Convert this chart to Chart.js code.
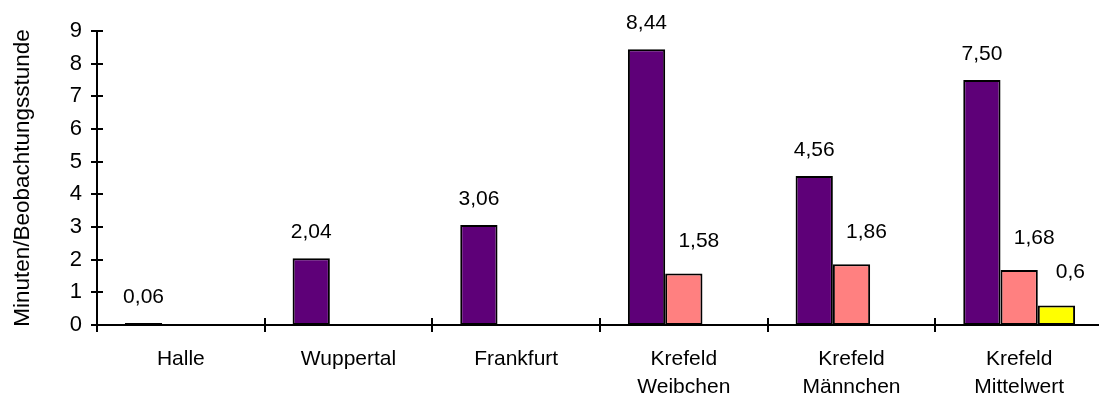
<!DOCTYPE html>
<html>
<head>
<meta charset="utf-8">
<script src="https://cdn.jsdelivr.net/npm/chart.js@4.4.0/dist/chart.umd.min.js"></script>
<style>
  html, body { margin: 0; padding: 0; background: #ffffff; overflow: hidden; }
  #wrap { position: relative; width: 1104px; height: 396px; }
</style>
</head>
<body>
<div id="wrap"><canvas id="c"></canvas></div>
<script>
// Locations on the category axis (two-line labels for the Krefeld groups)
const categories = [
  'Halle',
  'Wuppertal',
  'Frankfurt',
  ['Krefeld', 'Weibchen'],
  ['Krefeld', 'Männchen'],
  ['Krefeld', 'Mittelwert']
];

// Minutes per observation hour
const seriesA = [0.06, 2.04, 3.06, 8.44, 4.56, 7.50];
const seriesB = [null, null, null, 1.58, 1.86, 1.68];
const seriesC = [null, null, null, null, null, 0.6];

// Decimal places printed above each series' bars
const decimalsA = 2;
const decimalsB = 2;
const decimalsC = 1;

const yTicks = [0, 1, 2, 3, 4, 5, 6, 7, 8, 9];
const yTitle = 'Minuten/Beobachtungsstunde';

const FONT = '"Liberation Sans", Arial, Helvetica, sans-serif';

function fmt(v, d) {
  return v.toFixed(d).replace('.', ',');
}

// Value labels above the bars
const valueLabels = {
  id: 'valueLabels',
  afterDatasetsDraw(chart) {
    const ctx = chart.ctx;
    ctx.save();
    ctx.fillStyle = '#000';
    ctx.font = '21px ' + FONT;
    ctx.textAlign = 'center';
    ctx.textBaseline = 'middle';
    chart.data.datasets.forEach((ds, di) => {
      const meta = chart.getDatasetMeta(di);
      meta.data.forEach((bar, i) => {
        const v = ds.data[i];
        if (v === null || v === undefined) return;
        ctx.fillText(fmt(v, ds.labelDecimals), bar.x + ds.labelDx, bar.y - ds.labelDy);
      });
    });
    ctx.restore();
  }
};

// Axis tick marks that cross the axis lines
const crossTicks = {
  id: 'crossTicks',
  afterDraw(chart) {
    const ctx = chart.ctx;
    const ys = chart.scales.y;
    const area = chart.chartArea;
    ctx.save();
    ctx.strokeStyle = '#000';
    ctx.lineWidth = 2;
    ctx.beginPath();
    yTicks.forEach(v => {
      const y = Math.round(ys.getPixelForValue(v));
      ctx.moveTo(area.left - 6, y);
      ctx.lineTo(area.left + 6, y);
    });
    const n = categories.length;
    const step = (area.right - area.left) / n;
    for (let i = 0; i <= n; i++) {
      const x = Math.round(area.left + i * step);
      ctx.moveTo(x, area.bottom - 7);
      ctx.lineTo(x, area.bottom + 7);
    }
    ctx.stroke();
    ctx.restore();
  }
};

const barCommon = {
  borderColor: '#000000',
  borderWidth: 2,
  borderSkipped: false,
  categoryPercentage: 0.667,
  barPercentage: 1.0
};

new Chart(document.getElementById('c'), {
  type: 'bar',
  data: {
    labels: categories,
    datasets: [
      Object.assign({ label: 'A', data: seriesA, backgroundColor: '#5E0078',
        labelDecimals: decimalsA, labelDx: 0, labelDy: 26 }, barCommon),
      Object.assign({ label: 'B', data: seriesB, backgroundColor: '#FF8080',
        labelDecimals: decimalsB, labelDx: 15, labelDy: 32 }, barCommon),
      Object.assign({ label: 'C', data: seriesC, backgroundColor: '#FFFF00',
        labelDecimals: decimalsC, labelDx: 14, labelDy: 33 }, barCommon)
    ]
  },
  options: {
    responsive: true,
    maintainAspectRatio: false,
    animation: false,
    events: [],
    layout: { padding: { top: 31, right: 1, bottom: 0, left: 0 } },
    plugins: {
      legend: { display: false },
      tooltip: { enabled: false }
    },
    scales: {
      x: {
        offset: true,
        grid: { display: false, drawTicks: false },
        border: { display: true, color: '#000', width: 2 },
        ticks: {
          color: '#000',
          font: { family: FONT, size: 21, lineHeight: 1.33 },
          padding: 20,
          maxRotation: 0,
          autoSkip: false
        },
        afterFit(scale) { scale.height = 71; }
      },
      y: {
        min: 0,
        max: 9,
        grid: { display: false, drawTicks: false },
        border: { display: true, color: '#000', width: 2 },
        afterBuildTicks(scale) { scale.ticks = yTicks.map(v => ({ value: v })); },
        ticks: {
          color: '#000',
          font: { family: FONT, size: 22 },
          padding: 15,
          callback: v => String(v)
        },
        title: {
          display: true,
          text: yTitle,
          color: '#000',
          font: { family: FONT, size: 22.5, lineHeight: 1.2 },
          padding: { top: 9, bottom: 0 }
        },
        afterFit(scale) { scale.width = 97; }
      }
    }
  },
  plugins: [valueLabels, crossTicks]
});
</script>
</body>
</html>
